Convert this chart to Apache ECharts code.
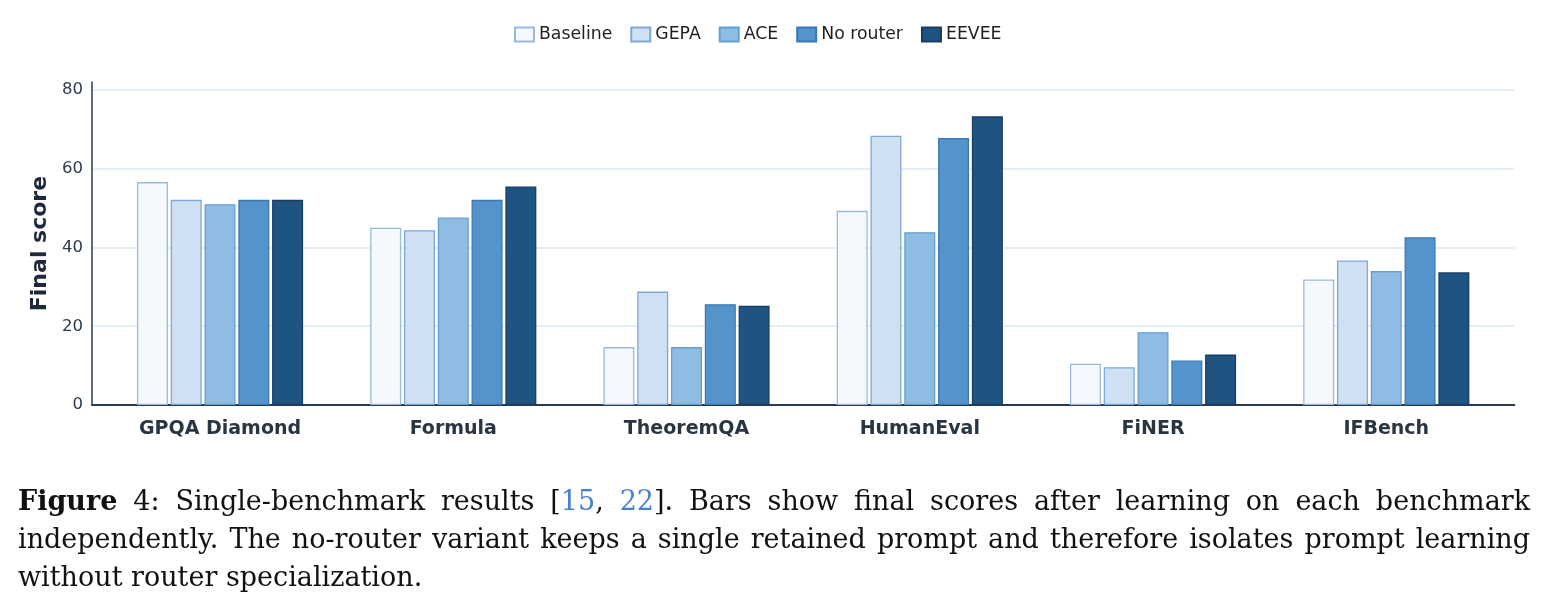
<!DOCTYPE html>
<html>
<head>
<meta charset="utf-8">
<script src="https://cdn.jsdelivr.net/npm/echarts@6/dist/echarts.min.js"></script>
<style>
  html, body { margin: 0; padding: 0; background: #fff; }
  #wrap { position: relative; width: 1546px; height: 615px; overflow: hidden; }
  #chart { position: absolute; left: 0; top: 0; width: 1546px; height: 615px; }
  #caption { position: absolute; left: 18px; top: 482px; width: 1512px;
    font-family: "DejaVu Serif", "Liberation Serif", serif; font-size: 26px; line-height: 38px; color: #111; }
  #caption .ln { white-space: nowrap; }
  #caption .j { text-align: justify; text-align-last: justify; }
  #caption.measuring .j { text-align: left; text-align-last: left; }
  #caption .cite { color: #4a7fd6; }
</style>
</head>
<body>
<div id="wrap">
  <div id="chart"></div>
  <div id="caption">
    <div class="ln j"><span class="m"><b>Figure</b> 4: Single-benchmark results [<span class="cite">15</span>, <span class="cite">22</span>]. Bars show final scores after learning on each benchmark</span></div>
    <div class="ln j"><span class="m">independently. The no-router variant keeps a single retained prompt and therefore isolates prompt learning</span></div>
    <div class="ln"><span>without router specialization.</span></div>
  </div>
</div>
<script>
const categories = ['GPQA Diamond', 'Formula', 'TheoremQA', 'HumanEval', 'FiNER', 'IFBench'];
const seriesNames = ['Baseline', 'GEPA', 'ACE', 'No router', 'EEVEE'];
const baseline = [56.6, 45.0, 14.7, 49.3, 10.5, 31.9];
const gepa     = [52.1, 44.4, 28.8, 68.4, 9.6, 36.7];
const ace      = [51.0, 47.6, 14.7, 43.9, 18.5, 34.0];
const noRouter = [52.1, 52.1, 25.6, 67.8, 11.3, 42.6];
const eevee    = [52.1, 55.5, 25.2, 73.3, 12.8, 33.7];
const yTicks = [0, 20, 40, 60, 80];

// fit caption font so the justified lines do not overflow (measure unjustified width)
(function fitCaption() {
  const cap = document.getElementById('caption');
  cap.classList.add('measuring');
  let size = 27;
  const spans = cap.querySelectorAll('.m');
  for (let k = 0; k < 20; k++) {
    cap.style.fontSize = size + 'px';
    let w = 0;
    spans.forEach(s => { w = Math.max(w, s.getBoundingClientRect().width); });
    if (w <= 1500) break;
    size -= 0.5;
  }
  cap.classList.remove('measuring');
})();

const values = [baseline, gepa, ace, noRouter, eevee];
const fills   = ['#f5f9fe', '#cfe0f2', '#8fbce3', '#5494ca', '#1f5381'];
const borders = ['#9bb9df', '#7ea8d8', '#649fd4', '#3a78b8', '#173f66'];

const chart = echarts.init(document.getElementById('chart'), null, { renderer: 'canvas' });
const axisDark = '#2b3a4e';
const textDark = '#2a3543';
const yMax = 82;

const grid0 = { left: 92, right: 31.7, top: 82.1, bottom: 210 };
const grid1 = { left: 103.4, right: 43.1, top: 82.1, bottom: 210 };

const option = {
  animation: false,
  backgroundColor: '#ffffff',
  legend: {
    data: seriesNames.map(n => ({ name: n, icon: 'rect' })),
    left: 509,
    top: 21,
    itemWidth: 19,
    itemHeight: 14,
    itemGap: 18,
    textStyle: { fontFamily: 'DejaVu Sans', fontSize: 17.3, color: '#1f1f1f' }
  },
  grid: [grid0, grid1],
  xAxis: [
    {
      type: 'value', gridIndex: 0, min: 0, max: 1,
      axisLine: { show: true, lineStyle: { color: axisDark, width: 2 } },
      axisTick: { show: false }, axisLabel: { show: false }, splitLine: { show: false }
    },
    {
      type: 'category', gridIndex: 1, data: categories,
      axisLine: { show: false }, axisTick: { show: false },
      axisLabel: { fontFamily: 'DejaVu Sans', fontWeight: 'bold', fontSize: 19, color: textDark, margin: 15 }
    }
  ],
  yAxis: [
    {
      type: 'value', gridIndex: 0, min: 0, max: yMax, interval: 20,
      name: 'Final score', nameLocation: 'middle', nameGap: 38,
      nameTextStyle: { fontFamily: 'DejaVu Sans', fontWeight: 'bold', fontSize: 22, color: '#1e2a3a' },
      axisLine: { show: true, lineStyle: { color: axisDark, width: 1.5 } },
      axisTick: { show: false },
      axisLabel: { fontFamily: 'DejaVu Sans', fontSize: 16.5, color: '#2e3a4c', margin: 9, showMaxLabel: false,
        formatter: v => (yTicks.indexOf(v) >= 0 ? String(v) : '') },
      splitLine: { show: true, lineStyle: { width: 1.5,
        color: ['#dde7f3', '#dde7f3', '#dde7f3', '#dde7f3', '#dde7f3', 'rgba(0,0,0,0)'] } }
    },
    {
      type: 'value', gridIndex: 1, min: 0, max: yMax, interval: 20, show: false,
      splitLine: { show: false }
    }
  ],
  series: seriesNames.map((name, i) => ({
    name: name,
    type: 'bar',
    xAxisIndex: 1,
    yAxisIndex: 1,
    data: values[i],
    barWidth: 31,
    barGap: '9%',
    itemStyle: { color: fills[i], borderColor: borders[i], borderWidth: 1.3 },
    emphasis: { disabled: true }
  }))
};
chart.setOption(option);
</script>
</body>
</html>
